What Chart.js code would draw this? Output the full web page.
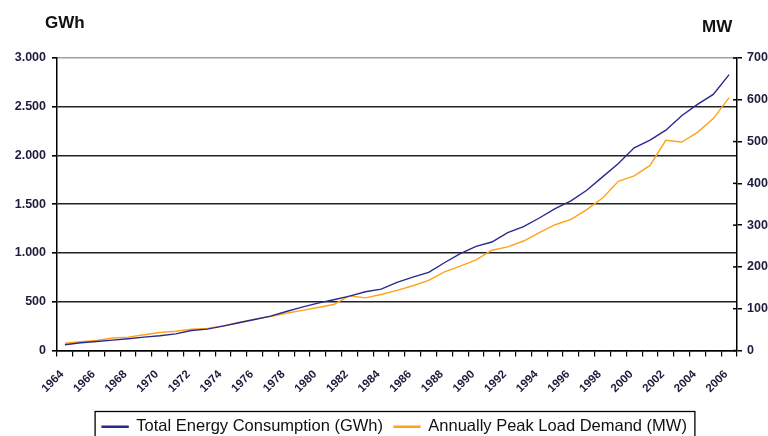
<!DOCTYPE html>
<html>
<head>
<meta charset="utf-8">
<script src="https://cdn.jsdelivr.net/npm/chart.js@4.4.1/dist/chart.umd.min.js"></script>
<style>
html, body { margin: 0; padding: 0; background: #fff; }
</style>
</head>
<body>
<canvas id="energy_chart" width="768" height="436"></canvas>
<script>
/*========================== Data =============================*/
const years = ['1964','1965','1966','1967','1968','1969','1970','1971','1972','1973',
               '1974','1975','1976','1977','1978','1979','1980','1981','1982','1983',
               '1984','1985','1986','1987','1988','1989','1990','1991','1992','1993',
               '1994','1995','1996','1997','1998','1999','2000','2001','2002','2003',
               '2004','2005','2006']
// Total Energy Consumption (GWh), left axis
const gwh = [59, 79, 92, 106, 120, 137, 151, 171, 205, 219,
             250, 284, 318, 352, 400, 445, 486, 521, 558, 603,
             630, 699, 753, 801, 900, 993, 1068, 1113, 1209, 1271,
             1359, 1456, 1534, 1644, 1781, 1918, 2079, 2158, 2260, 2408,
             2524, 2627, 2830]
// Annually Peak Load Demand (MW), right axis
const mw = [17.5, 20.8, 24, 30, 32, 37.6, 43, 46, 51, 53,
            59, 67, 75, 81.5, 89, 96, 103, 110, 131, 126,
            134, 144, 155, 168, 188, 202, 217, 240, 248, 262,
            282, 301, 314, 337, 365, 405, 418, 443, 503, 499,
            522, 555, 605]
const leftTicks = ['0', '500', '1.000', '1.500', '2.000', '2.500', '3.000']
const rightTicks = ['0', '100', '200', '300', '400', '500', '600', '700']

const tickFont = { family: 'Liberation Sans, Arial, sans-serif', size: 12.5, weight: 'bold' }
const tickColor = '#1c1c3c'

/*========================== Plugins =============================*/
const unitTitles = {
    id: 'unitTitles',
    afterDraw(chart) {
        const ctx = chart.ctx
        ctx.save()
        ctx.fillStyle = '#111'
        ctx.font = 'bold 17px "Liberation Sans", Arial, sans-serif'
        ctx.textBaseline = 'alphabetic'
        ctx.textAlign = 'left'
        ctx.fillText('GWh', 45, 28)
        ctx.fillText('MW', 702, 32)
        ctx.restore()
    }
}

// nudge the legend a little right and down, like the original
const legendShift = {
    id: 'legendShift',
    afterLayout(chart) {
        const lg = chart.legend
        lg.left += 10.5
        lg.right += 10.5
        lg.top += 9
        lg.bottom += 9
    }
}

const extras = {
    id: 'extras',
    afterDraw(chart) {
        const ctx = chart.ctx
        // right axis ticks cross the axis line
        const r = chart.scales.y1
        ctx.save()
        ctx.strokeStyle = '#000'
        ctx.lineWidth = 1.5
        r.ticks.forEach((t, i) => {
            const y = r.getPixelForTick(i)
            ctx.beginPath()
            ctx.moveTo(r.left - 4, y)
            ctx.lineTo(r.left, y)
            ctx.stroke()
        })
        // frame round the legend
        const hb = chart.legend.legendHitBoxes
        if (hb && hb.length) {
            const first = hb[0], last = hb[hb.length - 1]
            const left = first.left - 7
            const right = last.left + last.width + 8
            const top = first.top - 7
            ctx.lineWidth = 1.3
            ctx.strokeRect(left, top, right - left, 60)
        }
        ctx.restore()
    }
}

/*========================== Chart =============================*/
const chart = new Chart(document.getElementById('energy_chart'), {
    type: 'line',
    data: {
        labels: years,
        datasets: [
            {
                label: 'Total Energy Consumption (GWh)',
                data: gwh,
                yAxisID: 'y',
                borderColor: '#29298e',
                backgroundColor: '#29298e',
                borderWidth: 1.4,
                pointRadius: 0,
                tension: 0
            },
            {
                label: 'Annually Peak Load Demand (MW)',
                data: mw,
                yAxisID: 'y1',
                borderColor: '#ffa31a',
                backgroundColor: '#ffa31a',
                borderWidth: 1.4,
                pointRadius: 0,
                tension: 0
            }
        ]
    },
    options: {
        responsive: false,
        animation: false,
        devicePixelRatio: 1,
        layout: { padding: { left: 0, right: 0, top: 58, bottom: 0 } },
        plugins: {
            legend: {
                position: 'bottom',
                labels: {
                    boxWidth: 26,
                    boxHeight: 1,
                    padding: 11,
                    color: '#111',
                    font: { family: 'Liberation Sans, Arial, sans-serif', size: 16.5 }
                }
            },
            tooltip: { enabled: false }
        },
        scales: {
            x: {
                offset: true,
                grid: { offset: true, drawOnChartArea: false, tickLength: 6, color: '#000', lineWidth: 1.2 },
                border: { color: '#000', width: 1.5 },
                ticks: {
                    autoSkip: false,
                    minRotation: 45,
                    maxRotation: 45,
                    padding: 11,
                    labelOffset: -3,
                    color: tickColor,
                    font: { family: 'Liberation Sans, Arial, sans-serif', size: 11.5, weight: 'bold' },
                    callback: (v, i) => (i % 2 === 0 ? years[i] : '')
                },
                afterFit: s => { s.height = 48 }
            },
            y: {
                position: 'left',
                min: 0,
                max: 3000,
                grid: {
                    color: c => (c.tick && c.tick.value === 3000 ? '#a0a0a0' : '#222'),
                    lineWidth: 1.6,
                    tickLength: 5,
                    tickColor: '#000'
                },
                border: { color: '#000', width: 1.5 },
                ticks: {
                    stepSize: 500,
                    padding: 6,
                    color: tickColor,
                    font: tickFont,
                    callback: v => leftTicks[v / 500]
                },
                afterFit: s => { s.width = 57 }
            },
            y1: {
                position: 'right',
                min: 0,
                max: 700,
                grid: { drawOnChartArea: false, tickLength: 5, color: '#000', lineWidth: 1.5 },
                border: { color: '#000', width: 1.5 },
                ticks: {
                    stepSize: 100,
                    padding: 5,
                    color: tickColor,
                    font: tickFont,
                    callback: v => rightTicks[v / 100]
                },
                afterFit: s => { s.width = 31 }
            }
        }
    },
    plugins: [legendShift, unitTitles, extras]
})
</script>
</body>
</html>
